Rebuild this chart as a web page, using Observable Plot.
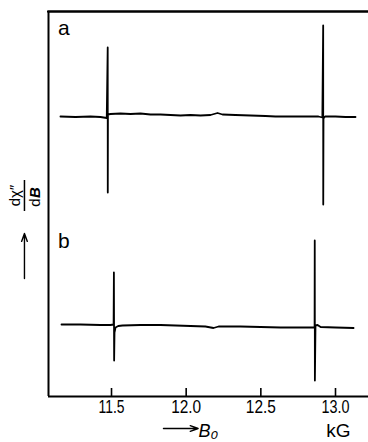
<!DOCTYPE html>
<html>
<head>
<meta charset="utf-8">
<script src="https://cdn.jsdelivr.net/npm/d3@7"></script>
<script src="https://cdn.jsdelivr.net/npm/@observablehq/plot@0.6"></script>
<style>
  html, body { margin: 0; padding: 0; background: #fff; }
</style>
</head>
<body>
<div id="chart"></div>
<script>
// Field values (kG) and derivative signal (arbitrary units, relative to trace baseline)
const fieldA = [11.158, 11.259, 11.359, 11.426, 11.468, 11.4745, 11.4750, 11.4760, 11.493, 11.560,
  11.627, 11.694, 11.761, 11.828, 11.895, 11.962, 12.029, 12.096, 12.163, 12.210,
  12.243, 12.330, 12.431, 12.531, 12.598, 12.699, 12.799, 12.886, 12.912, 12.9175,
  12.9180, 12.9195, 12.930, 13.000, 13.067, 13.134];
const signalA = [0, -0.5, 0, -0.5, -1.5, 69, -76, 2, 2.5, 3,
  2.5, 3, 2, 2, 1.5, 1, 1.5, 1, 1.5, 3.5,
  2, 1.5, 1, 0.5, 0, 0, 0, 0, -1, 91,
  -88, -2, 0, 0, -0.5, -0.5];

const fieldB = [11.165, 11.292, 11.426, 11.493, 11.514, 11.5160, 11.5175, 11.520, 11.527, 11.545,
  11.574, 11.694, 11.828, 11.929, 12.029, 12.129, 12.183, 12.217, 12.364, 12.498,
  12.632, 12.766, 12.846, 12.8600, 12.8610, 12.8620, 12.866, 12.880, 12.900, 13.000,
  13.121];
const signalB = [0, 0, -0.5, -0.5, 0, 52, -36, -8, -3, -1.5,
  -1, -0.5, -0.5, -1, -1.5, -2, -3.5, -2, -2, -2.5,
  -3, -3, -3, -3, 84, -56, -1, -0.5, -2.5, -3,
  -3.5];

const tickValues = [11.5, 12.0, 12.5, 13.0];
const traceLabels = ["a", "b"];
const unitLabel = "kG";
const xLabel = "B₀";

const offsetA = 280, offsetB = 72;
const traceA = fieldA.map((B, i) => ({B, s: signalA[i] + offsetA}));
const traceB = fieldB.map((B, i) => ({B, s: signalB[i] + offsetB}));

const xDomain = [11.078, 13.221];
const yDomain = [0, 385];

const font = "'Liberation Sans', Arial, sans-serif";
const fmt = d3.format(".1f");

const chart = Plot.plot({
  width: 368,
  height: 442,
  marginLeft: 48,
  marginRight: 0,
  marginTop: 11,
  marginBottom: 46,
  x: {domain: xDomain, axis: null},
  y: {domain: yDomain, axis: null},
  marks: [
    // frame: bottom, top, left
    Plot.ruleY([{s: yDomain[0]}], {y: "s", stroke: "#000", strokeWidth: 2}),
    Plot.ruleY([{s: yDomain[1]}], {y: "s", stroke: "#000", strokeWidth: 2}),
    Plot.ruleX([{B: xDomain[0]}], {x: "B", stroke: "#000", strokeWidth: 2}),
    // inward ticks
    Plot.ruleX(tickValues, {x: d => d, y1: 0, y2: 8, stroke: "#000", strokeWidth: 1.6}),
    Plot.text(tickValues, {x: d => d, y: 0, text: d => fmt(d), dy: 3, lineAnchor: "top",
      fontSize: 19, fontFamily: font, fill: "#000"}),
    // traces
    Plot.line(traceA, {x: "B", y: "s", stroke: "#000", strokeWidth: 1.8, strokeLinejoin: "round"}),
    Plot.line(traceB, {x: "B", y: "s", stroke: "#000", strokeWidth: 1.8, strokeLinejoin: "round"}),
    // trace labels
    Plot.text([{B: 11.181, s: 368, t: traceLabels[0]}, {B: 11.181, s: 155, t: traceLabels[1]}],
      {x: "B", y: "s", text: "t", fontSize: 21, fontFamily: font, fill: "#000"}),
    // x label with arrow
    Plot.arrow([{x1: 11.848, x2: 12.080, y: -32}], {x1: "x1", x2: "x2", y1: "y", y2: "y",
      stroke: "#000", strokeWidth: 1.4, headLength: 9, headAngle: 40}),
    Plot.text([{B: 12.083, s: -35, t: xLabel}], {x: "B", y: "s", text: "t", textAnchor: "start",
      fontSize: 18, fontStyle: "italic", fontFamily: font, fill: "#000"}),
    Plot.text([{B: 13.020, s: -34, t: unitLabel}], {x: "B", y: "s", text: "t",
      fontSize: 19, fontFamily: font, fill: "#000"}),
    // y label: fraction dχ''/dB, rotated, with upward arrow
    Plot.text([{B: 10.857, s: 201, t: "dχ″"}], {x: "B", y: "s", text: "t", rotate: -90,
      fontSize: 15, fontFamily: font, fill: "#000"}),
    Plot.ruleX([{B: 10.917, s1: 185, s2: 216}], {x: "B", y1: "s1", y2: "s2", stroke: "#000", strokeWidth: 1.5}),
    Plot.text([{B: 10.987, s: 194, t: "d"}], {x: "B", y: "s", text: "t", rotate: -90,
      fontSize: 15, fontFamily: font, fill: "#000"}),
    Plot.text([{B: 10.987, s: 204, t: "B"}], {x: "B", y: "s", text: "t", rotate: -90,
      fontSize: 15, fontStyle: "italic", fontWeight: "bold", fontFamily: font, fill: "#000"}),
    Plot.arrow([{B: 10.917, s1: 118, s2: 163}], {x1: "B", x2: "B", y1: "s1", y2: "s2",
      stroke: "#000", strokeWidth: 1.4, headLength: 9, headAngle: 40})
  ]
});

// condense the tick labels horizontally, as in the original figure
const labelWidths = {"11.5": 26, "12.0": 30, "12.5": 30, "13.0": 28};
d3.select(chart).selectAll("text").each(function() {
  const w = labelWidths[this.textContent];
  if (w) {
    this.setAttribute("textLength", w);
    this.setAttribute("lengthAdjust", "spacingAndGlyphs");
  }
});

// top edge of the frame, placed through the chart's own scales
const sx = chart.scale("x"), sy = chart.scale("y");
const yTop = sy.apply(yDomain[1]);
d3.select(chart).append("line")
  .attr("x1", sx.apply(xDomain[0]) - 1)
  .attr("x2", sx.apply(xDomain[1]))
  .attr("y1", yTop + 0.5)
  .attr("y2", yTop + 0.5)
  .attr("stroke", "#000")
  .attr("stroke-width", 2);

document.getElementById("chart").appendChild(chart);
</script>
</body>
</html>
